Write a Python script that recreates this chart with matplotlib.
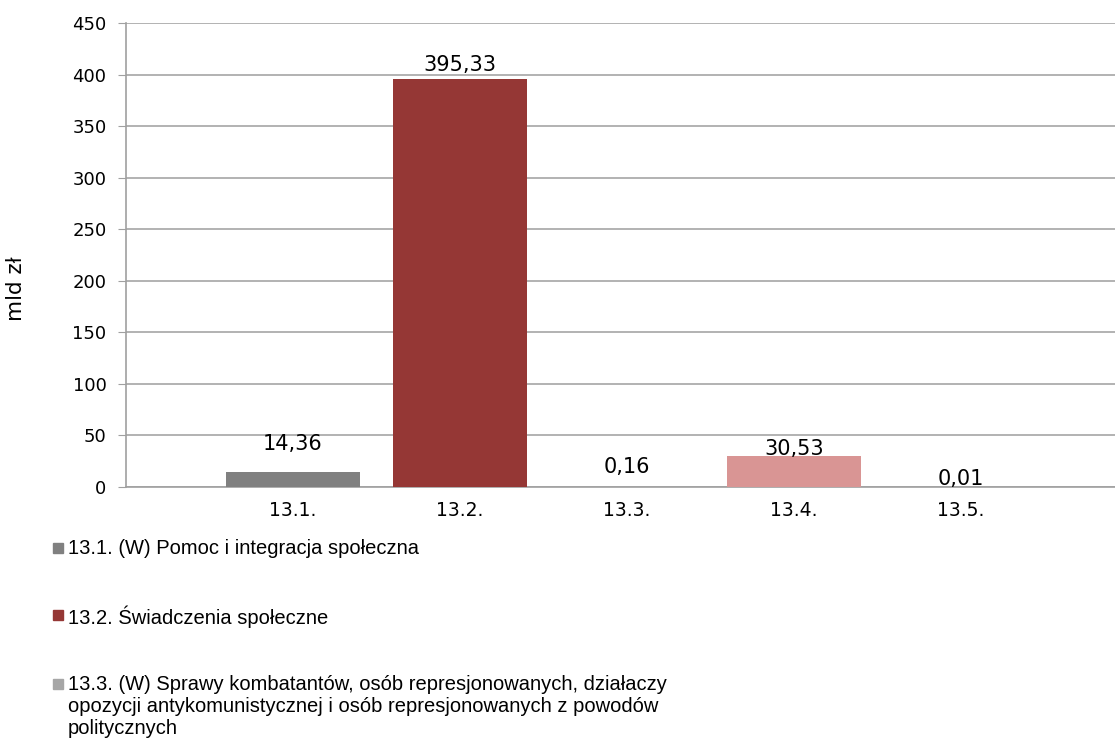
import matplotlib.pyplot as plt
from matplotlib.patches import Rectangle

# data
categories = ['13.1.', '13.2.', '13.3.', '13.4.', '13.5.']
values = [14.36, 395.33, 0.16, 30.53, 0.01]
value_labels = ['14,36', '395,33', '0,16', '30,53', '0,01']
colors = ['#808080', '#953735', '#a6a6a6', '#d99594', '#c8c8c8']
legend_labels = [
    '13.1. (W) Pomoc i integracja społeczna',
    '13.2. Świadczenia społeczne',
    '13.3. (W) Sprawy kombatantów, osób represjonowanych, działaczy\n'
    'opozycji antykomunistycznej i osób represjonowanych z powodów\n'
    'politycznych',
]
yticks = list(range(0, 451, 50))

# label offsets above bars (points), as placed in the original
label_offsets = [20, 10.5, 14, 5, 5.5]

fig = plt.figure(figsize=(11.15, 7.38), dpi=100)
ax = fig.add_axes([126 / 1115, 251 / 738, 1 - 126 / 1115, 464 / 738])

x = list(range(1, len(categories) + 1))
ax.bar(x, values, width=0.8, color=colors, zorder=3)

for xi, v, lab, off in zip(x, values, value_labels, label_offsets):
    ax.annotate(lab, (xi, v), xytext=(0, off), textcoords='offset points',
                ha='center', va='center', fontsize=15, color='#000000')

ax.set_xlim(0, 989 / 167)
ax.set_ylim(0, 450)
ax.set_yticks(yticks)
ax.set_xticks(x)
ax.set_xticklabels(categories, fontsize=13.5)
ax.tick_params(axis='y', labelsize=13, length=6, color='#a0a0a0', pad=8)
ax.tick_params(axis='x', length=0, pad=10)
ax.grid(axis='y', color='#a6a6a6', linewidth=1.2, zorder=0)

for s in ['top', 'right']:
    ax.spines[s].set_visible(False)
ax.spines['left'].set_color('#a0a0a0')
ax.spines['bottom'].set_color('#a0a0a0')
ax.spines['left'].set_linewidth(1.2)
ax.spines['bottom'].set_linewidth(1.2)

ax.set_ylabel('mld zł', fontsize=15.5)
ax.yaxis.set_label_coords((26 - 126) / 989, (487 - 289) / 464)

# legend, drawn by hand
legend_tops = [543, 610, 679]
for i, lab in enumerate(legend_labels):
    sq_top = legend_tops[i]
    fig.patches.append(Rectangle((53 / 1115, 1 - (sq_top + 10) / 738), 10 / 1115, 10 / 738,
                                 transform=fig.transFigure, color=colors[i]))
    fig.text(68 / 1115, 1 - (sq_top - 4) / 738, lab, fontsize=14.5,
             family='Liberation Sans', va='top', ha='left', linespacing=1.2)

fig.savefig('out.png', dpi=100)
